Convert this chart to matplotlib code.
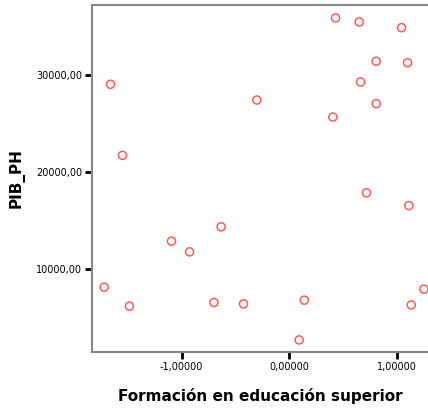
import matplotlib.pyplot as plt
import matplotlib.ticker as mticker

# valores
formacion = [-1.662, -1.551, 0.431, 0.651, 1.045, 0.809, 1.101, 0.664, -0.301,
             0.809, 0.406, 0.719, 1.113, -1.095, -0.927, -0.633, -1.721, -1.486,
             -0.700, -0.425, 0.140, 0.093, 1.135, 1.253]
pib_ph = [29070, 21740, 35920, 35510, 34920, 31450, 31300, 29310, 27450,
          27070, 25690, 17870, 16550, 12880, 11780, 14360, 8130, 6170,
          6550, 6410, 6790, 2690, 6300, 7930]

xticks = [-1, 0, 1]
yticks = [10000, 20000, 30000]

fig = plt.figure(figsize=(4.28, 4.12), dpi=100)
ax = fig.add_axes([0.215, 0.146, 0.785, 0.842])

ax.scatter(formacion, pib_ph, s=34, facecolors='none', edgecolors='#ff5a5a', linewidths=1.1)

ax.set_xlim(-1.834, 1.291)
ax.set_ylim(1457, 37262)
ax.set_xticks(xticks)
ax.set_yticks(yticks)
ax.xaxis.set_major_formatter(mticker.FuncFormatter(lambda v, p: ('%.5f' % v).replace('.', ',')))
ax.yaxis.set_major_formatter(mticker.FuncFormatter(lambda v, p: ('%.2f' % v).replace('.', ',')))
ax.tick_params(labelsize=7, length=5, width=2, color='black', pad=2)

for s in ['left', 'bottom', 'top']:
    ax.spines[s].set_color('#888888')
    ax.spines[s].set_linewidth(1.5)
ax.spines['right'].set_visible(False)

ax.set_xlabel('Formación en educación superior', fontsize=11, fontweight='bold', labelpad=12)
ax.set_ylabel('PIB_PH', fontsize=11, fontweight='bold', labelpad=8)

plt.savefig('out.png', dpi=100)
